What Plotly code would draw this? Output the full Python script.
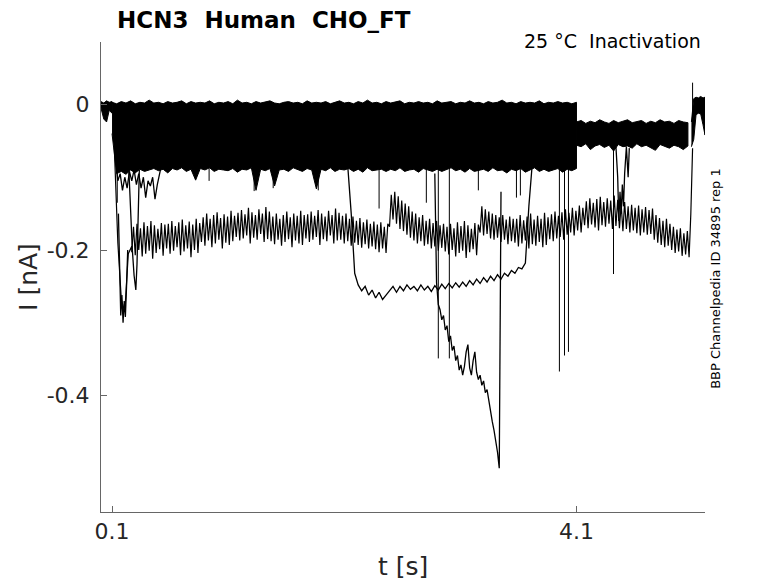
import numpy as np
import plotly.graph_objects as go

# --- DATOS (corriente en pA, se divide por 1000 para nA) ---

# banda densa de trazas cerca de 0: borde superior / inferior por tramo
band_a_t = [0.005, 0.029, 0.053, 0.076, 0.10]
band_a_top = [4, 2, 5, 3, 4]
band_a_bot = [-5, -20, -24, -8, -12]

band_b_t0, band_b_dt = 0.10, 0.04
band_b_top = [3, 1, 4, 2, 5, 1, 3, 2, 6, 2,
              3, 1, 4, 2, 3, 5, 1, 4, 2, 3,
              2, 5, 1, 3, 2, 4, 1, 6, 2, 3,
              1, 4, 2, 3, 5, 2, 1, 3, 4, 2,
              3, 1, 5, 2, 3, 2, 4, 1, 3, 5,
              2, 3, 1, 4, 2, 6, 2, 3, 1, 4,
              2, 3, 5, 1, 3, 2, 4, 2, 3, 1,
              5, 2, 3, 4, 1, 3, 2, 5, 2, 3,
              1, 4, 2, 3, 6, 2, 3, 1, 4, 2,
              3, 2, 5, 1, 3, 2, 4, 2, 3, 1,
              3]
band_b_bot = [-40, -95, -92, -96, -90, -94, -89, -92, -90, -88,
              -91, -89, -94, -88, -90, -87, -92, -89, -104, -88,
              -90, -87, -92, -89, -90, -91, -88, -93, -89, -90,
              -87, -118, -89, -91, -88, -112, -90, -89, -92, -87,
              -90, -92, -88, -90, -116, -89, -91, -87, -92, -89,
              -90, -88, -92, -89, -93, -87, -91, -90, -89, -92,
              -89, -91, -87, -92, -90, -89, -93, -88, -90, -92,
              -89, -92, -90, -87, -91, -89, -93, -88, -92, -90,
              -89, -92, -87, -91, -90, -94, -89, -91, -88, -93,
              -90, -87, -92, -89, -92, -90, -88, -93, -89, -91,
              -88]

band_c_t0, band_c_dt = 4.10, 0.04
band_c_top = [-24, -22, -26, -23, -25, -21, -24, -26, -22, -25, -23, -21, -25,
              -24, -22, -26, -23, -25, -21, -24, -23, -26, -22, -24, -25]
band_c_bot = [-56, -58, -54, -62, -57, -55, -59, -56, -64, -55, -58, -57, -60,
              -54, -58, -56, -59, -63, -55, -57, -60, -56, -58, -62, -57]

band_d_t = [5.09, 5.11, 5.13, 5.15, 5.17, 5.19, 5.207]
band_d_top = [-24, 8, 10, 9, 11, 9, 10]
band_d_bot = [-58, -48, -14, -12, -13, -28, -42]

# traza que baja a -0.18 nA: inicio, y luego muestras bajas / altas intercaladas
trace_a_start_t0, trace_a_start_dt = 0.12, 0.03
trace_a_start = [-60, -190, -268, -285, -205, -195]

trace_a_lo_t0, trace_a_lo_dt = 0.27, 0.03
trace_a_lo = [-203, -207, -200, -209, -205, -201, -212, -204, -199, -208,
              -198, -205, -201, -196, -207, -202, -198, -210, -200, -204,
              -189, -194, -187, -196, -191, -186, -198, -190, -193, -188,
              -182, -187, -184, -180, -191, -183, -186, -178, -189, -185,
              -188, -192, -186, -194, -189, -185, -196, -187, -191, -193,
              -184, -189, -186, -182, -193, -185, -188, -180, -191, -187,
              -186, -191, -188, -194, -190, -193, -197, -192, -198, -195,
              -199, -203, -198, -204, -168, -158, -164, -171, -174, -179,
              -183, -187, -191, -188, -194, -192, -198, -195, -201, -197,
              -202, -206, -200, -209, -204, -201, -211, -203, -199, -207,
              -176, -180, -178, -184, -186, -183, -189, -186, -192, -188,
              -190, -195, -191, -187, -198, -192, -194, -189, -196, -193,
              -185, -188, -184, -182, -186, -179, -176, -180, -173, -176,
              -166, -170, -165, -169, -173, -166, -168, -164, -171, -167,
              -170, -174, -171, -176, -173, -177, -180, -176, -179, -178,
              -186, -190, -193, -196, -194, -200, -204, -202, -208, -206,
              -210, -60]

trace_a_hi_t0, trace_a_hi_dt = 0.285, 0.03
trace_a_hi = [-168, -164, -170, -162, -167, -160, -166, -171, -163, -165,
              -164, -160, -167, -162, -158, -166, -161, -165, -157, -163,
              -155, -150, -157, -152, -148, -156, -151, -154, -146, -153,
              -149, -145, -151, -142, -148, -152, -144, -150, -141, -147,
              -154, -150, -157, -152, -147, -155, -150, -153, -146, -152,
              -151, -147, -153, -145, -150, -154, -146, -152, -143, -149,
              -153, -150, -157, -154, -160, -156, -162, -158, -164, -161,
              -165, -162, -168, -164, -124, -120, -126, -132, -136, -140,
              -147, -150, -155, -152, -160, -157, -163, -160, -166, -164,
              -168, -164, -170, -162, -167, -160, -166, -171, -163, -165,
              -140, -144, -147, -150, -152, -155, -152, -158, -154, -157,
              -157, -152, -159, -154, -150, -158, -153, -157, -149, -155,
              -151, -147, -153, -148, -144, -149, -142, -146, -139, -142,
              -133, -129, -135, -130, -127, -134, -129, -132, -125, -131,
              -137, -134, -140, -138, -142, -139, -144, -141, -145, -143,
              -152, -156, -160, -157, -164, -168, -172, -170, -177, -174,
              -150]

# traza que baja a -0.25 nA
trace_b_t0, trace_b_dt = 2.10, 0.03
trace_b = [-72, -84, -150, -232, -248, -256, -250, -262, -255, -266,
           -258, -268, -262, -256, -250, -258, -250, -256, -248, -254,
           -250, -256, -248, -255, -250, -257, -249, -255, -247, -253,
           -246, -252, -245, -251, -244, -250, -242, -248, -240, -246,
           -238, -244, -236, -242, -234, -240, -232, -236, -228, -232,
           -224, -226, -218, -140, -80]

# traza profunda hasta -0.5 nA
trace_c_t0, trace_c_dt = 2.88, 0.015
trace_c = [-95, -245, -275, -282, -296, -290, -310, -304, -326, -318,
           -338, -332, -352, -345, -365, -358, -372, -360, -340, -330,
           -362, -372, -352, -340, -368, -378, -372, -386, -380, -396,
           -392, -408, -420, -436, -448, -462, -478, -500, -120]

# trazas cortas al inicio y cerca de 4.5 s
trace_f_t0, trace_f_dt = 0.13, 0.02
trace_f = [-75, -105, -95, -118, -100, -115, -92, -105, -90, -110,
           -95, -115, -100, -128, -105, -112, -100, -130, -110, -95, -80]

dip_b_t = [0.155, 0.165, 0.175, 0.185, 0.195, 0.205, 0.215, 0.225, 0.235]
dip_b = [-150, -250, -290, -262, -300, -270, -292, -250, -200]
dip_e_t = [0.245, 0.26, 0.275, 0.29, 0.305, 0.315, 0.325, 0.335]
dip_e = [-90, -150, -200, -235, -255, -220, -150, -90]
dip_late_t = [4.44, 4.455, 4.465, 4.475, 4.485, 4.495, 4.505, 4.515, 4.53, 4.545, 4.555]
dip_late = [-58, -100, -160, -120, -150, -110, -140, -95, -58, -100, -60]

# picos rapidos (tiempo, minimo)
spike_t = [0.145, 0.936, 1.324, 1.488, 1.876, 2.40, 2.807, 2.91, 3.005,
           3.255, 3.583, 3.617, 3.953, 3.997, 4.031, 4.419]
spike_min = [-135, -105, -119, -115, -118, -143, -135, -349, -349,
             -118, -128, -125, -367, -345, -340, -233]
spike_up_t = [5.10]
spike_up_max = [30]

LINE = dict(color='black', width=1)
THICK = dict(color='black', width=1.3)


def na(v):
    return np.array(v, dtype=float) / 1000.0


def grid(t0, dt, v):
    return t0 + dt * np.arange(len(v))


fig = go.Figure()

# banda: poligono entre borde superior e inferior
bands = [
    (np.array(band_a_t), band_a_top, band_a_bot),
    (grid(band_b_t0, band_b_dt, band_b_top), band_b_top, band_b_bot),
    (grid(band_c_t0, band_c_dt, band_c_top), band_c_top, band_c_bot),
    (np.array(band_d_t), band_d_top, band_d_bot),
]
for t, top, bot in bands:
    fig.add_trace(go.Scatter(
        x=np.concatenate([t, t[::-1]]),
        y=np.concatenate([na(top), na(bot)[::-1]]),
        fill='toself', fillcolor='black', mode='lines', line=LINE,
        hoverinfo='skip'))

# traza -0.18: se juntan las series ordenadas por tiempo
partes = [(trace_a_start_t0, trace_a_start_dt, trace_a_start),
          (trace_a_lo_t0, trace_a_lo_dt, trace_a_lo),
          (trace_a_hi_t0, trace_a_hi_dt, trace_a_hi)]
ta = np.concatenate([grid(t0, dt, v) for t0, dt, v in partes])
va = np.concatenate([na(v) for _, _, v in partes])
orden = np.argsort(ta, kind='stable')
fig.add_trace(go.Scatter(x=ta[orden], y=va[orden], mode='lines',
                         line=dict(color='black', width=1.2)))

for t0, dt, v in [(trace_b_t0, trace_b_dt, trace_b),
                  (trace_c_t0, trace_c_dt, trace_c),
                  (trace_f_t0, trace_f_dt, trace_f)]:
    fig.add_trace(go.Scatter(x=grid(t0, dt, v), y=na(v), mode='lines', line=THICK))

for t, v in [(dip_b_t, dip_b), (dip_e_t, dip_e), (dip_late_t, dip_late)]:
    fig.add_trace(go.Scatter(x=t, y=na(v), mode='lines', line=THICK))

# picos como lineas verticales desde el borde de la banda
sx, sy = [], []
for t, m in zip(spike_t, spike_min):
    base = -0.085 if t < 4.1 else -0.055
    sx += [t, t, None]
    sy += [base, m / 1000.0, None]
for t, m in zip(spike_up_t, spike_up_max):
    sx += [t, t, None]
    sy += [-0.02, m / 1000.0, None]
fig.add_trace(go.Scatter(x=sx, y=sy, mode='lines', line=LINE))

AX = '#666666'
TXT = '#262626'
fig.update_xaxes(range=[0.005, 5.207], tickvals=[0.1, 4.1], ticktext=['0.1', '4.1'],
                 showline=True, linecolor=AX, linewidth=1, ticks='inside',
                 ticklen=6, tickcolor=AX, showgrid=False, zeroline=False,
                 ticklabelstandoff=0,
                 tickfont=dict(family='DejaVu Sans', size=22, color=TXT))
fig.update_yaxes(range=[-0.5601, 0.0859], tickvals=[-0.4, -0.2, 0],
                 ticktext=['-0.4', '-0.2', '0'],
                 showline=True, linecolor=AX, linewidth=1, ticks='inside',
                 ticklen=6, tickcolor=AX, showgrid=False, zeroline=False,
                 ticklabelstandoff=6,
                 tickfont=dict(family='DejaVu Sans', size=22, color=TXT))

# la pagina deja 8 px de margen del body: el lienzo es 770x575
fig.update_layout(
    width=770, height=575,
    margin=dict(l=93, r=73, t=34, b=71),
    plot_bgcolor='white', paper_bgcolor='white',
    showlegend=False,
    font=dict(family='DejaVu Sans', color='black'),
    annotations=[
        dict(text='<b>HCN3\u00a0\u00a0Human\u00a0\u00a0CHO_FT</b>', xref='paper', yref='paper',
             x=0.023, y=1.046, xanchor='left', yanchor='middle', showarrow=False,
             font=dict(size=23, color='black')),
        dict(text='25 °C\u00a0\u00a0Inactivation', xref='paper', yref='paper',
             x=0.9967, y=1.002, xanchor='right', yanchor='middle', showarrow=False,
             font=dict(size=19, color='black')),
        dict(text='BBP Channelpedia ID 34895 rep 1', xref='paper', yref='paper',
             x=1.018, y=0.498, xanchor='center', yanchor='middle', showarrow=False,
             textangle=-90, font=dict(size=13, color='black')),
        dict(text='I [nA]', xref='paper', yref='paper',
             x=-0.121, y=0.5, xanchor='center', yanchor='middle', showarrow=False,
             textangle=-90, font=dict(size=25, color=TXT)),
        dict(text='t [s]', xref='paper', yref='paper',
             x=0.5, y=-0.117, xanchor='center', yanchor='middle', showarrow=False,
             font=dict(size=25, color=TXT)),
    ],
)

fig.write_html("out.html")
